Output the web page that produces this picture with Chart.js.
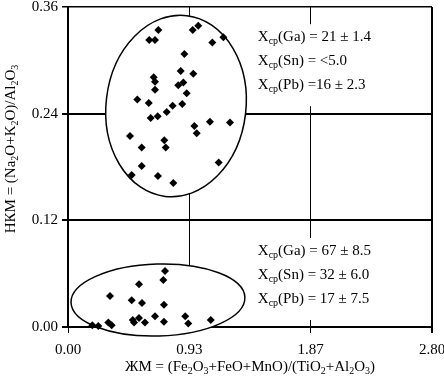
<!DOCTYPE html>
<html>
<head>
<meta charset="utf-8">
<script src="https://cdn.jsdelivr.net/npm/chart.js@4"></script>
<style>
  html, body { margin: 0; padding: 0; background: #fff; }
  #wrap { width: 444px; height: 391px; }
</style>
</head>
<body>
<div id="wrap"><canvas id="chart"></canvas></div>
<script>
// tick values
const xTicks = [0, 2.8 / 3, 5.6 / 3, 2.8];
const yTicks = [0, 0.12, 0.24, 0.36];

// upper group (high HKM)
const upperX = [0.695, 0.959, 1.002, 0.625, 0.669, 1.110, 1.195, 0.895, 0.867, 0.964,
    0.659, 0.669, 0.848, 0.887, 0.669, 0.913, 0.533, 0.621, 0.805, 0.879,
    0.759, 0.690, 0.636, 1.092, 1.246, 0.972, 0.990, 0.477, 0.741, 0.752,
    0.567, 0.567, 1.159, 0.490, 0.692, 0.810];
const upperY = [0.334, 0.334, 0.339, 0.323, 0.323, 0.320, 0.326, 0.307, 0.288, 0.285,
    0.281, 0.276, 0.272, 0.275, 0.267, 0.263, 0.256, 0.252, 0.249, 0.251,
    0.242, 0.237, 0.235, 0.231, 0.230, 0.226, 0.218, 0.215, 0.210, 0.202,
    0.202, 0.181, 0.185, 0.171, 0.170, 0.162];

// lower group
const lowerX = [0.746, 0.733, 0.546, 0.323, 0.490, 0.569, 0.738, 0.669, 0.546, 0.498,
    0.508, 0.592, 0.738, 0.902, 0.925, 1.098, 0.310, 0.336, 0.187, 0.233];
const lowerY = [0.063, 0.053, 0.048, 0.035, 0.030, 0.027, 0.025, 0.012, 0.010, 0.008,
    0.005, 0.005, 0.006, 0.012, 0.004, 0.008, 0.005, 0.002, 0.002, 0.001];

// group outlines: centre x, centre y, half width, half height (data units)
const upperEllipse = [0.831, 0.2486, 0.538, 0.1024];
const lowerEllipse = [0.692, 0.0304, 0.669, 0.0405];

// mean contents
const elements = ["Ga", "Sn", "Pb"];
const upperMeans = ["= 21 ± 1.4", "= <5.0", "=16 ± 2.3"];
const lowerMeans = ["= 67 ± 8.5", "= 32 ± 6.0", "= 17 ± 7.5"];
const upperNoteAt = [1.46, 0.326];
const lowerNoteAt = [1.46, 0.0855];

const FONT = "'Liberation Serif', 'Times New Roman', serif";

function toPoints(xs, ys) {
    return xs.map((x, i) => ({ x: x, y: ys[i] }));
}

// draw text made of [text, isSubscript] pieces
function runsWidth(ctx, runs, size) {
    let w = 0;
    runs.forEach(r => {
        ctx.font = (r[1] ? Math.round(size * 0.68) : size) + "px " + FONT;
        w += ctx.measureText(r[0]).width;
    });
    return w;
}
function drawRuns(ctx, runs, x, y, size) {
    ctx.textBaseline = "middle";
    ctx.textAlign = "left";
    let cx = x;
    runs.forEach(r => {
        ctx.font = (r[1] ? Math.round(size * 0.68) : size) + "px " + FONT;
        ctx.fillText(r[0], cx, r[1] ? y + size * 0.3 : y);
        cx += ctx.measureText(r[0]).width;
    });
}

function drawEllipse(chart, e, tilt) {
    const xs = chart.scales.x, ys = chart.scales.y, ctx = chart.ctx;
    const cx = xs.getPixelForValue(e[0]), cy = ys.getPixelForValue(e[1]);
    const rx = xs.getPixelForValue(e[0] + e[2]) - cx;
    const ry = cy - ys.getPixelForValue(e[1] + e[3]);
    ctx.save();
    ctx.beginPath();
    ctx.ellipse(cx, cy, rx, ry, tilt, 0, Math.PI * 2);
    ctx.fillStyle = "#fff";
    ctx.fill();
    ctx.lineWidth = 1.5;
    ctx.strokeStyle = "#000";
    ctx.stroke();
    ctx.restore();
}

function drawNote(chart, at, means) {
    const xs = chart.scales.x, ys = chart.scales.y, ctx = chart.ctx;
    const x = xs.getPixelForValue(at[0]), y = ys.getPixelForValue(at[1]);
    const size = 15, step = 24;
    const lines = elements.map((el, i) => [["X", false], ["ср", true], ["(" + el + ") " + means[i], false]]);
    let w = 0;
    lines.forEach(l => { w = Math.max(w, runsWidth(ctx, l, size)); });
    ctx.save();
    ctx.fillStyle = "#fff";
    ctx.fillRect(x - 5, y - 13, w + 10, step * 2 + 34);
    ctx.fillStyle = "#000";
    lines.forEach((l, i) => drawRuns(ctx, l, x, y + i * step, size));
    ctx.restore();
}

const overlays = {
    id: "overlays",
    beforeDatasetsDraw(chart) {
        drawEllipse(chart, upperEllipse, 0.12);
        drawEllipse(chart, lowerEllipse, -0.03);
        drawNote(chart, upperNoteAt, upperMeans);
        drawNote(chart, lowerNoteAt, lowerMeans);
    },
    afterDraw(chart) {
        const ctx = chart.ctx, a = chart.chartArea;
        ctx.save();
        ctx.fillStyle = "#000";
        const xt = [["ЖМ = (Fe", false], ["2", true], ["O", false], ["3", true], ["+FeO+MnO)/(TiO", false],
            ["2", true], ["+Al", false], ["2", true], ["O", false], ["3", true], [")", false]];
        const xw = runsWidth(ctx, xt, 15);
        drawRuns(ctx, xt, (a.left + a.right) / 2 - xw / 2, 367, 15);

        const yt = [["НКМ = (Na", false], ["2", true], ["O+K", false], ["2", true], ["O)/Al", false],
            ["2", true], ["O", false], ["3", true]];
        const yw = runsWidth(ctx, yt, 15);
        ctx.translate(11, 149);
        ctx.rotate(-Math.PI / 2);
        drawRuns(ctx, yt, -yw / 2, 0, 15);
        ctx.restore();
    }
};

new Chart(document.getElementById("chart"), {
    type: "scatter",
    data: {
        datasets: [
            { label: "upper", data: toPoints(upperX, upperY) },
            { label: "lower", data: toPoints(lowerX, lowerY) }
        ]
    },
    options: {
        responsive: true,
        maintainAspectRatio: false,
        animation: false,
        layout: { padding: { top: 7, right: 12, left: 0, bottom: 0 } },
        elements: {
            point: { pointStyle: "rectRot", radius: 4, backgroundColor: "#000", borderWidth: 0 }
        },
        datasets: { scatter: { clip: false } },
        plugins: { legend: { display: false }, tooltip: { enabled: false } },
        scales: {
            x: {
                type: "linear",
                min: 0,
                max: 2.8,
                afterBuildTicks: s => { s.ticks = xTicks.map(v => ({ value: v })); },
                afterFit: s => { s.height = 64; s.paddingLeft = 0; s.paddingRight = 0; },
                ticks: {
                    color: "#000",
                    font: { family: FONT, size: 15 },
                    padding: 8,
                    maxRotation: 0,
                    callback: v => v.toFixed(2)
                },
                grid: {
                    color: "#000",
                    lineWidth: c => (c.tick && c.tick.value === 2.8 ? 2 : 1),
                    tickLength: 6
                },
                border: { color: "#000", width: 2 }
            },
            y: {
                min: 0,
                max: 0.36,
                afterBuildTicks: s => { s.ticks = yTicks.map(v => ({ value: v })); },
                afterFit: s => { s.width = 68; s.paddingTop = 0; s.paddingBottom = 0; },
                ticks: {
                    color: "#000",
                    font: { family: FONT, size: 15 },
                    padding: 4,
                    callback: v => v.toFixed(2)
                },
                grid: {
                    color: "#000",
                    lineWidth: c => (c.tick && c.tick.value === 0.36 ? 1.5 : 2),
                    tickLength: 6
                },
                border: { color: "#000", width: 2 }
            }
        }
    },
    plugins: [overlays]
});
</script>
</body>
</html>
